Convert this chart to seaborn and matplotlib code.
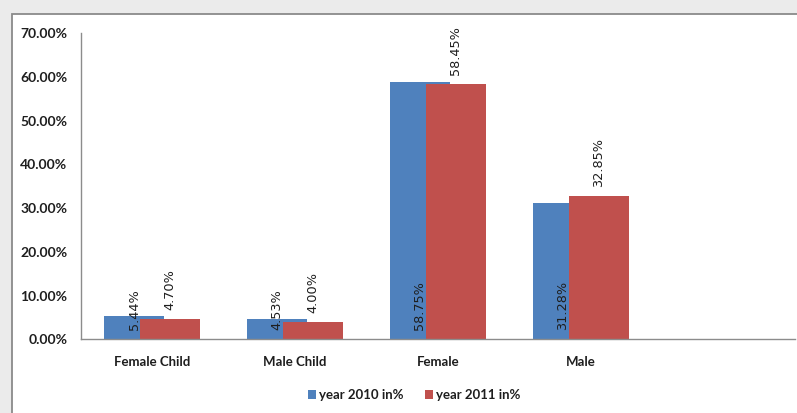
import matplotlib
matplotlib.use("Agg")
import matplotlib.pyplot as plt
from matplotlib.patches import Rectangle
from matplotlib.ticker import PercentFormatter
import seaborn as sns
import pandas as pd

categories = ["Female Child", "Male Child", "Female", "Male"]
series_names = ["year 2010 in%", "year 2011 in%"]
values_2010 = [5.44, 4.53, 58.75, 31.28]
values_2011 = [4.70, 4.00, 58.45, 32.85]
y_ticks = [0, 10, 20, 30, 40, 50, 60, 70]

colors = ["#4F81BD", "#C0504D"]

df = pd.DataFrame({
    "category": categories * 2,
    "series": [series_names[0]] * 4 + [series_names[1]] * 4,
    "value": values_2010 + values_2011,
})

sns.set_theme(style="white")
plt.rcParams["font.family"] = ["Lato", "DejaVu Sans"]

fig = plt.figure(figsize=(7.97, 4.13), dpi=100)
fig.patch.set_facecolor("#ebebeb")
bg = fig.add_axes([0, 0, 1, 1], zorder=-10)
bg.set_axis_off()
bg.set_xlim(0, 1)
bg.set_ylim(0, 1)
bg.add_patch(Rectangle((12 / 797, -0.1), 1.0, (413 - 14) / 413 + 0.1,
                       facecolor="white", edgecolor="#8a8a8a", linewidth=1.3))

ax = fig.add_axes([80.7 / 797, 1 - 339.3 / 413, (795 - 80.7) / 797, (339.3 - 33.3) / 413])
ax.set_facecolor("none")

sns.barplot(data=df, x="category", y="value", hue="series", order=categories,
            hue_order=series_names, palette=colors, dodge=True, width=0.504,
            saturation=1, ax=ax, legend=False)

BAR_W = 0.42
for p in ax.patches:
    cx = p.get_x() + p.get_width() / 2
    p.set_width(BAR_W)
    p.set_x(cx - BAR_W / 2)
    p.set_linewidth(0)

ax.set_xlim(-0.5, 4.5)
ax.set_ylim(0, 70)
ax.set_yticks(y_ticks)
ax.yaxis.set_major_formatter(PercentFormatter(decimals=2))
ax.set_xlabel("")
ax.set_ylabel("")

for lab in ax.get_xticklabels():
    lab.set_fontweight("bold")
    lab.set_fontsize(9.5)
    lab.set_color("#1e1e1e")
for lab in ax.get_yticklabels():
    lab.set_fontweight("bold")
    lab.set_fontsize(10)
    lab.set_color("#1e1e1e")
ax.tick_params(axis="y", length=0, pad=9.5)
ax.tick_params(axis="x", length=0, pad=12)

for s in ["top", "right"]:
    ax.spines[s].set_visible(False)
for s in ["left", "bottom"]:
    ax.spines[s].set_color("#8c8c8c")
    ax.spines[s].set_linewidth(1.0)

# data labels
blue_bars = ax.containers[0]
red_bars = ax.containers[1]
for p, v in zip(blue_bars, values_2010):
    cx = p.get_x() + p.get_width() / 2
    ax.annotate(f"{v:.2f}%", xy=(cx, 0), xytext=(0, 6.5), textcoords="offset points",
                rotation=90, ha="center", va="bottom", fontsize=9.3,
                family="DejaVu Sans", color="#1e1e1e", zorder=5)
for p, v in zip(red_bars, values_2011):
    cx = p.get_x() + p.get_width() / 2
    ax.annotate(f"{v:.2f}%", xy=(cx, p.get_height()), xytext=(0, 6.5),
                textcoords="offset points", rotation=90, ha="center", va="bottom",
                fontsize=9.3, family="DejaVu Sans", color="#1e1e1e", zorder=5)

handles = [Rectangle((0, 0), 1, 1, facecolor=c, edgecolor="none") for c in colors]
leg = ax.legend(handles, series_names, loc="center", bbox_to_anchor=(414 / 797, 1 - 395 / 413),
                bbox_transform=fig.transFigure, ncol=2, frameon=False,
                handlelength=0.6, handleheight=0.6, handletextpad=0.25,
                columnspacing=1.6, prop={"weight": "bold", "size": 9.5})
for t in leg.get_texts():
    t.set_color("#1e1e1e")

fig.savefig("out.png", dpi=100, facecolor=fig.get_facecolor())
